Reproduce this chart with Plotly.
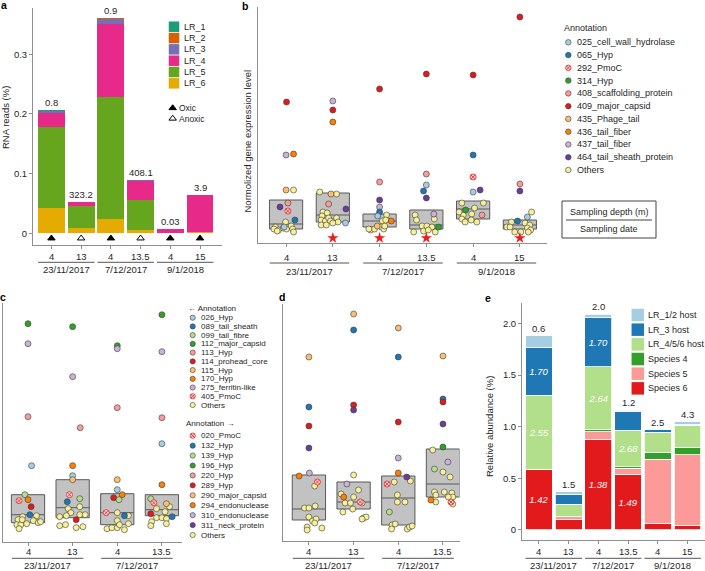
import plotly.graph_objects as go

W, H = 705, 571
FONT = "Liberation Sans, Arial, Helvetica, sans-serif"
INK = "#1f1f1f"
AXC = "#8f8f8f"

# ------------------------------------------------------------------ shared labels
depth6 = ["4", "13", "4", "13.5", "4", "15"]
depth4 = ["4", "13", "4", "13.5"]
dates3 = ["23/11/2017", "7/12/2017", "9/1/2018"]
dates2 = ["23/11/2017", "7/12/2017"]

# ------------------------------------------------------------------ panel a data
a_names = ["LR_1", "LR_2", "LR_3", "LR_4", "LR_5", "LR_6"]
a_colors = ["#1b9e77", "#d95f02", "#7570b3", "#e7298a", "#66a61e", "#e6ab02"]
a_LR1 = [0.0015, 0.0, 0.0, 0.0005, 0.0, 0.0]
a_LR2 = [0.0005, 0.0, 0.002, 0.0, 0.0, 0.0]
a_LR3 = [0.003, 0.001, 0.008, 0.002, 0.0, 0.0]
a_LR4 = [0.024, 0.006, 0.123, 0.031, 0.006, 0.062]
a_LR5 = [0.136, 0.037, 0.204, 0.050, 0.0, 0.0]
a_LR6 = [0.042, 0.009, 0.024, 0.006, 0.001, 0.002]
a_top_labels = ["0.8", "323.2", "0.9", "408.1", "0.03", "3.9"]
a_oxygen = ["Oxic", "Anoxic", "Oxic", "Anoxic", "Oxic", "Oxic"]

# ------------------------------------------------------------------ palette
LBLUE, DBLUE, LGREEN, DGREEN = "#a6cee3", "#1f78b4", "#b2df8a", "#33a02c"
PINK, RED, LORANGE, ORANGE = "#fb9a99", "#e31a1c", "#fdbf6f", "#ff7f00"
LPURPLE, PURPLE, YELLOW = "#cab2d6", "#6a3d9a", "#f6f09a"
PMOC = "PMOC"
PMOC_FILL, PMOC_LINE = "#fde3e3", "#f03c3c"

# ------------------------------------------------------------------ panel b data
b_legend = ["025_cell_wall_hydrolase", "065_Hyp", "292_PmoC", "314_Hyp", "408_scaffolding_protein",
            "409_major_capsid", "435_Phage_tail", "436_tail_fiber", "437_tail_fiber",
            "464_tail_sheath_protein", "Others"]
b_legend_colors = [LBLUE, DBLUE, PMOC, DGREEN, PINK, RED, LORANGE, ORANGE, LPURPLE, PURPLE, YELLOW]
b_jitter = [
    [0.01, 0.0, 0.16, 0.0, 0.16, -0.13, 0.04, 0.04, 0.19, -0.04, -0.01, -0.23, -0.16, -0.06, 0.01, 0.11, 0.14, 0.16, -0.26, -0.19],
    [0, 0, 0, -0.28, -0.04, 0.08, -0.09, 0.28, -0.21, -0.12, -0.23, -0.25, -0.16, -0.09, -0.05, 0.08, 0.11, -0.25, -0.14, 0.0, 0.27],
    [0, 0, 0, 0, 0, -0.04, 0.15, 0.06, 0.25, -0.05, -0.19, -0.11, 0.04, 0.09, 0.11, -0.23, 0.13],
    [0, 0, 0, -0.06, 0, -0.24, 0.16, -0.21, 0.17, -0.09, 0.01, 0.12, -0.27, -0.06, 0.04, 0.19, 0.26],
    [0, 0, 0, 0, 0.15, -0.24, 0.22, 0.03, -0.16, -0.21, -0.03, 0.19, -0.24, -0.17, -0.04, 0.08, -0.3],
    [0, 0, 0, 0.25, 0.16, -0.05, -0.18, 0.11, -0.28, -0.21, 0.21, 0.16, 0.23, 0.18, -0.11, 0.02],
]
b_level = [
    [14.1, 8.8, 8.9, 5.3, 5.3, 3.6, 4.0, 3.2, 2.3, 1.6, 2.1, 1.6, 1.3, 1.5, 1.4, 1.7, 1.4, 1.1, 1.4, 1.2],
    [14.2, 13.3, 12.1, 5.1, 4.9, 4.9, 3.9, 3.4, 3.1, 3.0, 2.7, 2.3, 2.2, 2.5, 2.2, 2.5, 2.1, 1.8, 1.8, 2.0, 2.0],
    [15.4, 6.1, 4.3, 3.6, 3.1, 2.7, 2.8, 2.2, 2.2, 1.7, 1.3, 1.4, 1.6, 1.4, 1.7, 1.4, 2.3],
    [16.9, 6.9, 5.8, 5.2, 4.5, 2.8, 2.9, 2.3, 2.4, 1.7, 1.7, 1.6, 1.1, 1.2, 1.3, 1.1, 1.6],
    [16.8, 8.8, 6.6, 5.1, 5.3, 4.0, 4.0, 3.5, 3.3, 2.8, 2.9, 2.8, 2.4, 2.1, 2.3, 2.1, 3.1],
    [22.6, 5.9, 5.2, 3.1, 2.6, 2.2, 2.1, 2.0, 1.6, 1.6, 1.8, 1.5, 1.3, 1.1, 1.1, 1.1],
]
b_annot = [
    ["409", "437", "436", "435", "O", "464", "408", "292", "065", "025"] + ["O"] * 10,
    ["437", "409", "436", "O", "435", "O", "408", "464"] + ["O"] * 12 + ["025"],
    ["409", "408", "464", "437", "065", "025", "O", "O", "436", "435"] + ["O"] * 7,
    ["409", "408", "025", "065", "464", "O", "437"] + ["O"] * 9 + ["314"],
    ["409", "065", "292", "025", "464", "O", "O", "O", "314", "O", "O", "408", "O", "O", "O", "O", "O"],
    ["409", "408", "464", "O", "025", "065"] + ["O"] * 10,
]
b_q1 = [1.4, 2.1, 1.6, 1.4, 2.4, 1.4]
b_median = [1.9, 2.8, 2.2, 1.8, 3.4, 1.8]
b_q3 = [4.3, 5.0, 2.9, 3.3, 4.2, 2.3]
b_star_groups = [1, 2, 3, 5]

# ------------------------------------------------------------------ panel c data
c_legend = ["026_Hyp", "089_tail_sheath", "099_tail_fibre", "112_major_capsid", "113_Hyp",
            "114_prohead_core", "115_Hyp", "170_Hyp", "275_ferritin-like", "405_PmoC", "Others"]
c_legend_colors = [LBLUE, DBLUE, LGREEN, DGREEN, PINK, RED, LORANGE, ORANGE, LPURPLE, PMOC, YELLOW]
c_jitter = [
    [0, 0, 0, 0.08, -0.07, 0.0, -0.2, 0.07, 0.04, -0.12, 0.19, 0.12, 0.23, 0.28, -0.22, -0.25, -0.16, -0.03, -0.2, -0.13],
    [0, 0, 0.17, 0, 0, 0, -0.07, 0.16, -0.12, -0.1, 0.16, -0.04, 0.16, -0.14, -0.29, 0.28, 0.08, -0.29, -0.16, 0.08, 0.23],
    [0, 0, 0, 0, 0, 0.11, -0.08, 0.04, -0.25, 0, 0.16, 0.25, 0, 0.25, -0.23, -0.12, 0, 0.05, 0.16],
    [0, 0, 0, 0, 0, -0.25, -0.18, 0.1, -0.12, 0.07, 0.17, -0.25, 0.23, -0.12, 0, 0.1, -0.23, 0.1, -0.25],
]
c_level = [
    [21.8, 19.8, 12.5, 7.6, 4.7, 4.2, 4.1, 3.5, 2.7, 2.5, 2.6, 2.1, 1.9, 2.0, 2.2, 1.7, 1.7, 1.8, 1.3, 2.2],
    [21.5, 16.5, 11.4, 7.6, 6.6, 6.2, 4.7, 4.3, 4.0, 3.3, 3.5, 2.9, 2.7, 2.6, 2.5, 2.7, 2.2, 1.6, 1.7, 1.4, 1.5],
    [19.6, 19.3, 13.4, 6.2, 5.2, 4.7, 4.4, 4.2, 2.9, 2.9, 2.6, 2.6, 2.1, 1.8, 1.3, 1.4, 1.4, 1.7, 1.2],
    [22.7, 19.0, 12.4, 9.8, 5.7, 4.3, 3.9, 3.8, 3.3, 3.0, 3.5, 2.8, 2.5, 2.4, 2.4, 2.3, 2.0, 1.8, 1.6],
]
c_annot = [
    ["112", "275", "113", "026", "099", "170", "405", "114", "089"] + ["O"] * 11,
    ["112", "275", "113", "170", "026", "115", "405", "099", "089"] + ["O"] * 7 + ["114"] + ["O"] * 4,
    ["112", "275", "113", "115", "026", "170", "114", "099", "405", "O", "089"] + ["O"] * 8,
    ["112", "275", "113", "026", "170", "099", "405", "115", "O", "O", "O", "114", "089"] + ["O"] * 6,
]
c_q1 = [1.9, 2.4, 1.7, 2.6]
c_median = [2.7, 3.4, 2.9, 3.2]
c_q3 = [4.7, 6.2, 4.8, 4.7]

# ------------------------------------------------------------------ panel d data
d_legend = ["020_PmoC", "132_Hyp", "139_Hyp", "196_Hyp", "220_Hyp", "289_Hyp", "290_major_capsid",
            "294_endonuclease", "310_endonuclease", "311_neck_protein", "Others"]
d_legend_colors = [PMOC, DBLUE, LGREEN, DGREEN, PINK, RED, LORANGE, ORANGE, LPURPLE, PURPLE, YELLOW]
d_jitter = [
    [0, 0, 0, 0, -0.22, 0.01, 0.19, 0.13, -0.1, 0, 0.14, 0, 0.08, 0.16, 0.13, -0.04, -0.04, 0.29],
    [0, 0, 0, 0, 0, -0.15, 0.11, -0.28, -0.22, 0, -0.19, -0.07, 0.15, 0.19, -0.24, -0.02, 0.22, 0.28, 0.19],
    [0, 0, 0, 0, 0, 0.19, 0.27, -0.25, -0.09, -0.02, -0.02, 0.15, -0.2, -0.14, -0.07, -0.15, 0.2, 0.25, 0.31],
    [0, 0, 0, 0, 0, -0.23, 0.11, -0.19, 0, 0.16, -0.19, 0.03, 0.2, 0.22, 0.12, -0.16, -0.27, -0.16, 0.18, 0.22],
]
d_level = [
    [18.4, 13.4, 11.5, 9.3, 6.5, 6.8, 5.9, 5.5, 3.3, 3.3, 3.5, 2.4, 2.0, 2.2, 1.8, 1.4, 1.1, 1.3],
    [22.7, 21.1, 13.6, 13.1, 6.6, 5.7, 5.1, 4.7, 4.4, 4.4, 3.8, 3.8, 3.9, 3.8, 2.9, 3.2, 2.3, 2.4, 2.2],
    [21.3, 18.4, 11.9, 8.3, 6.8, 6.4, 6.0, 5.7, 5.9, 4.6, 3.9, 3.9, 2.9, 1.6, 1.7, 1.2, 1.2, 1.4, 1.5],
    [18.5, 14.2, 13.9, 11.7, 9.4, 9.1, 7.9, 7.2, 6.9, 6.4, 4.9, 4.9, 4.8, 4.4, 4.4, 4.6, 4.1, 3.9, 3.9, 3.7],
]
d_annot = [
    ["290", "132", "289", "311", "294", "310", "020"] + ["O"] * 11,
    ["290", "132", "289", "311", "O", "310", "O", "O", "294", "O", "O", "O", "020"] + ["O"] * 6,
    ["290", "132", "289", "310", "294", "311", "O", "020", "O", "O", "O", "O", "139"] + ["O"] * 6,
    ["290", "132", "289", "311", "196", "O", "310", "139"] + ["O"] * 8 + ["294", "O", "020", "O"],
]
d_q1 = [2.1, 3.2, 1.6, 4.4]
d_median = [3.2, 3.9, 4.3, 5.7]
d_q3 = [6.6, 5.9, 6.5, 9.2]

# ------------------------------------------------------------------ panel e data
e_names = ["LR_1/2 host", "LR_3 host", "LR_4/5/6 host", "Species 4", "Species 5", "Species 6"]
e_colors = [LBLUE, DBLUE, LGREEN, DGREEN, PINK, RED]
e_LR12 = [0.112, 0.020, 0.032, 0.009, 0.0, 0.022]
e_LR3 = [0.462, 0.100, 0.478, 0.184, 0.023, 0.013]
e_LR456 = [0.716, 0.119, 0.606, 0.358, 0.196, 0.213]
e_sp4 = [0.0, 0.0, 0.022, 0.013, 0.065, 0.071]
e_sp5 = [0.0, 0.032, 0.075, 0.058, 0.629, 0.681]
e_sp6 = [0.590, 0.097, 0.877, 0.539, 0.058, 0.048]
e_txt_LR3 = ["1.70", "", "1.70", "", "", ""]
e_txt_LR456 = ["2.55", "", "2.64", "2.68", "", ""]
e_txt_sp6 = ["1.42", "", "1.38", "1.49", "", ""]
e_top_labels = ["0.6", "1.5", "2.0", "1.2", "2.5", "4.3"]


# ------------------------------------------------------------------ helpers
def fx(p):
    return p / W


def fy(p):
    return 1 - p / H


def refs(n):
    return ("x", "y") if n == 1 else ("x%d" % n, "y%d" % n)


def axkeys(n):
    return ("xaxis", "yaxis") if n == 1 else ("xaxis%d" % n, "yaxis%d" % n)


PANELS = {
    "a": dict(n=1, xpx=(33, 222), ypx=(8, 245), xr=[-0.62, 5.74], yr=[-0.0196, 0.3774], ncat=6),
    "b": dict(n=2, xpx=(258, 547), ypx=(7, 243), xr=[-0.6, 5.58], yr=[0, 23.6], ncat=6),
    "c": dict(n=3, xpx=(3, 182), ypx=(303, 541.7), xr=[-0.56, 3.45], yr=[0, 23.87], ncat=4),
    "d": dict(n=4, xpx=(283, 459.5), ypx=(304, 541), xr=[-0.58, 3.37], yr=[0, 23.7], ncat=4),
    "e": dict(n=5, xpx=(522, 705), ypx=(303.3, 540), xr=[-0.57, 5.59], yr=[-0.097, 2.195], ncat=6),
}

fig = go.Figure()
anns = []
shapes = []
axes = {}


def font(size=9, color=INK, **kw):
    d = dict(family=FONT, size=size, color=color)
    d.update(kw)
    return d


def text(x, y, s, size=9, xanchor="center", yanchor="middle", **kw):
    anns.append(dict(x=fx(x), y=fy(y), xref="paper", yref="paper", text=s, showarrow=False,
                     font=font(size), xanchor=xanchor, yanchor=yanchor, **kw))


for key, p in PANELS.items():
    n = p["n"]
    xk, yk = axkeys(n)
    xr_, yr_ = refs(n)
    axes[xk] = dict(domain=[fx(p["xpx"][0]), fx(p["xpx"][1])], range=p["xr"], anchor=yr_,
                    showline=True, linecolor=AXC, linewidth=1, ticks="outside", ticklen=3,
                    tickcolor=AXC, tickwidth=1, tickvals=list(range(p["ncat"])),
                    showticklabels=False, showgrid=False, zeroline=False, fixedrange=True)
    axes[yk] = dict(domain=[fy(p["ypx"][1]), fy(p["ypx"][0])], range=p["yr"], anchor=xr_,
                    showline=True, linecolor=AXC, linewidth=1, showgrid=False, zeroline=False,
                    fixedrange=True, ticks="", showticklabels=False)

axes["yaxis"].update(ticks="outside", ticklen=3, tickcolor=AXC, showticklabels=True,
                     tickvals=[0, 0.1, 0.2, 0.3], ticktext=["0", "0.1", "0.2", "0.3"],
                     tickfont=font(9.5))
axes["yaxis5"].update(ticks="outside", ticklen=3, tickcolor=AXC, showticklabels=True,
                      tickvals=[0, 0.5, 1.0, 1.5, 2.0], ticktext=["0", "0.5", "1.0", "1.5", "2.0"],
                      tickfont=font(9.5))
# overlay (pixel-like) axis for legends
axes["xaxis6"] = dict(domain=[0, 1], range=[0, W], anchor="y6", visible=False, fixedrange=True)
axes["yaxis6"] = dict(domain=[0, 1], range=[H, 0], anchor="x6", visible=False, fixedrange=True)


def x_groups(n, depths, dates, lo, hi, y_depth, y_line, y_date):
    xr_, _ = refs(n)
    for i, d in enumerate(depths):
        anns.append(dict(x=i, xref=xr_, y=fy(y_depth), yref="paper", text=d, showarrow=False,
                         font=font(9.5), xanchor="center", yanchor="middle"))
    for g, dt in enumerate(dates):
        x0, x1 = 2 * g + lo, 2 * g + 1 + hi
        shapes.append(dict(type="line", xref=xr_, yref="paper", x0=x0, x1=x1,
                           y0=fy(y_line), y1=fy(y_line), line=dict(color="#555555", width=1)))
        anns.append(dict(x=(x0 + x1) / 2, xref=xr_, y=fy(y_date), yref="paper", text=dt,
                         showarrow=False, font=font(9.5), xanchor="center", yanchor="middle"))


# ------------------------------------------------------------------ panel a
a_stack = [a_LR6, a_LR5, a_LR4, a_LR3, a_LR2, a_LR1]
for vals, name, col in zip(a_stack, a_names[::-1], a_colors[::-1]):
    fig.add_trace(go.Bar(x=list(range(6)), y=vals, name=name, marker=dict(color=col, line=dict(width=0)),
                         width=0.9, xaxis="x", yaxis="y", showlegend=False, hoverinfo="skip"))
a_tot = [sum(v) for v in zip(*a_stack)]
for i, lab in enumerate(a_top_labels):
    anns.append(dict(x=i, xref="x", y=a_tot[i], yref="y", text=lab, showarrow=False,
                     font=font(9.5), xanchor="center", yanchor="bottom", yshift=0))
fig.add_trace(go.Scatter(x=list(range(6)), y=[-0.0084] * 6, mode="markers", xaxis="x", yaxis="y",
                         marker=dict(symbol=["triangle-up" if o == "Oxic" else "triangle-up-open" for o in a_oxygen],
                                     size=6.5, color="black", line=dict(color="black", width=1)),
                         cliponaxis=False, showlegend=False, hoverinfo="skip"))
x_groups(1, depth6, dates3, -0.45, 0.45, 256.7, 262.3, 270)

# a legend
fig.add_trace(go.Scatter(x=[174] * 6, y=[26.7 + 11.33 * i for i in range(6)], mode="markers",
                         xaxis="x6", yaxis="y6",
                         marker=dict(symbol="square", size=10.5, color=a_colors, line=dict(width=0)),
                         showlegend=False, hoverinfo="skip"))
for i, nm in enumerate(a_names):
    text(182, 26.7 + 11.33 * i, nm, size=9, xanchor="left")
fig.add_trace(go.Scatter(x=[172.7, 172.7], y=[108, 118.5], mode="markers", xaxis="x6", yaxis="y6",
                         marker=dict(symbol=["triangle-up", "triangle-up-open"], size=6.5, color="black",
                                     line=dict(color="black", width=1)),
                         showlegend=False, hoverinfo="skip"))
text(177.5, 108, "Oxic", size=8.5, xanchor="left")
text(177.5, 118.5, "Anoxic", size=8.5, xanchor="left")
text(5, 118, "RNA reads (%)", size=9.5, textangle=-90)


# ------------------------------------------------------------------ scatter panels
def cmap_from(names, colors):
    m = {}
    for nm, c in zip(names, colors):
        m["O" if nm == "Others" else nm.split("_")[0]] = c
    return m


def add_points(n, jit, lev, ann, names, colors, size=6):
    cmap = cmap_from(names, colors)
    xr_, yr_ = refs(n)
    pts = []
    for g in range(len(jit)):
        for j, v, a in zip(jit[g], lev[g], ann[g]):
            pts.append((g + j, v, a))
    pts.sort(key=lambda t: t[2] != "O")
    xs = [t[0] for t in pts]
    ys = [t[1] for t in pts]
    cols = [PMOC_FILL if cmap[t[2]] == PMOC else cmap[t[2]] for t in pts]
    syms = ["circle-x" if cmap[t[2]] == PMOC else "circle" for t in pts]
    lcol = [PMOC_LINE if cmap[t[2]] == PMOC else "#3a3a3a" for t in pts]
    lw = [1.0 if cmap[t[2]] == PMOC else 0.6 for t in pts]
    fig.add_trace(go.Scatter(x=xs, y=ys, mode="markers", xaxis=xr_, yaxis=yr_,
                             marker=dict(size=size, color=cols, symbol=syms, line=dict(color=lcol, width=lw)),
                             cliponaxis=False, showlegend=False, hoverinfo="skip"))


def add_boxes(n, q1, med, q3, width):
    xr_, yr_ = refs(n)
    fig.add_trace(go.Box(x=list(range(len(q1))), q1=q1, median=med, q3=q3, lowerfence=q1, upperfence=q3,
                         width=width, fillcolor="#c2c2c2", line=dict(color="#595959", width=1),
                         whiskerwidth=0, boxpoints=False, xaxis=xr_, yaxis=yr_,
                         showlegend=False, hoverinfo="skip"))


def legend_points(xc, y0, dy, colors, size, xtext, names, tsize):
    cols = [PMOC_FILL if c == PMOC else c for c in colors]
    syms = ["circle-x" if c == PMOC else "circle" for c in colors]
    lcol = [PMOC_LINE if c == PMOC else "#3a3a3a" for c in colors]
    lw = [1.0 if c == PMOC else 0.6 for c in colors]
    ys = [y0 + dy * i for i in range(len(colors))]
    fig.add_trace(go.Scatter(x=[xc] * len(colors), y=ys, mode="markers", xaxis="x6", yaxis="y6",
                             marker=dict(size=size, color=cols, symbol=syms, line=dict(color=lcol, width=lw)),
                             showlegend=False, hoverinfo="skip"))
    for y, nm in zip(ys, names):
        text(xtext, y, nm, size=tsize, xanchor="left")


# panel b
add_boxes(2, b_q1, b_median, b_q3, 0.71)
add_points(2, b_jitter, b_level, b_annot, b_legend, b_legend_colors, size=6)
fig.add_trace(go.Scatter(x=b_star_groups, y=[0.5] * len(b_star_groups), mode="markers", xaxis="x2", yaxis="y2",
                         marker=dict(symbol="star", size=8.5, color="#ee1c1c", line=dict(width=0)),
                         cliponaxis=False, showlegend=False, hoverinfo="skip"))
x_groups(2, depth6, dates3, -0.35, 0.35, 257, 263, 271)
text(246.5, 141, "Normolized gene expression level", size=9.5, textangle=-90)
text(562, 28.3, "Annotation", size=9, xanchor="left")
legend_points(568.3, 42.3, 12.77, b_legend_colors, 5.5, 574.5, b_legend, 9)
shapes.append(dict(type="rect", xref="paper", yref="paper", x0=fx(562), x1=fx(656), y0=fy(238), y1=fy(201),
                   line=dict(color="#444444", width=1)))
shapes.append(dict(type="line", xref="paper", yref="paper", x0=fx(566), x1=fx(652), y0=fy(220), y1=fy(220),
                   line=dict(color="#444444", width=1)))
text(609, 211.5, "Sampling depth (m)", size=9)
text(609, 229, "Sampling date", size=9)

# panel c
add_boxes(3, c_q1, c_median, c_q3, 0.745)
add_points(3, c_jitter, c_level, c_annot, c_legend, c_legend_colors, size=6)
x_groups(3, depth4, dates2, -0.36, 0.24, 551.7, 558.3, 565)
text(186, 308, "\u2190 Annotation", size=8, xanchor="left")
legend_points(192.7, 317.7, 8.73, c_legend_colors, 5.2, 199, c_legend, 8)
text(184, 423, "Annotation \u2192", size=8, xanchor="left")
legend_points(192.7, 435.7, 9.93, d_legend_colors, 5.2, 199, d_legend, 8)

# panel d
add_boxes(4, d_q1, d_median, d_q3, 0.745)
add_points(4, d_jitter, d_level, d_annot, d_legend, d_legend_colors, size=6)
x_groups(4, depth4, dates2, -0.36, 0.24, 551.7, 558.3, 565)

# ------------------------------------------------------------------ panel e
e_stack = [e_sp6, e_sp5, e_sp4, e_LR456, e_LR3, e_LR12]
e_txts = [e_txt_sp6, None, None, e_txt_LR456, e_txt_LR3, None]
for vals, name, col, tx in zip(e_stack, e_names[::-1], e_colors[::-1], e_txts):
    kw = {}
    if tx is not None:
        kw = dict(text=tx, textposition="inside", insidetextanchor="middle", textangle=0,
                  textfont=dict(family=FONT, size=9.5, color="white", style="italic"))
    fig.add_trace(go.Bar(x=list(range(6)), y=vals, name=name,
                         marker=dict(color=col, line=dict(color="white", width=0.8)),
                         width=0.9, xaxis="x5", yaxis="y5", showlegend=False, hoverinfo="skip", **kw))
e_tot = [sum(v) for v in zip(*e_stack)]
for i, lab in enumerate(e_top_labels):
    anns.append(dict(x=i, xref="x5", y=e_tot[i], yref="y5", text=lab, showarrow=False,
                     font=font(9.5), xanchor="center", yanchor="bottom", yshift=0))
x_groups(5, depth6, dates3, -0.45, 0.45, 551.7, 558.3, 565)
text(489, 427, "Relative abundance (%)", size=9.5, textangle=-90)
fig.add_trace(go.Scatter(x=[637.8] * 6, y=[315 + 14.67 * i for i in range(6)], mode="markers",
                         xaxis="x6", yaxis="y6",
                         marker=dict(symbol="square", size=12.5, color=e_colors, line=dict(width=0)),
                         showlegend=False, hoverinfo="skip"))
for i, nm in enumerate(e_names):
    text(646, 315 + 14.67 * i, nm, size=9, xanchor="left")

# ------------------------------------------------------------------ panel letters
for lt, (x, y) in zip("abcde", [(4, 5), (245, 6), (3, 297), (281.5, 297), (488, 298)]):
    anns.append(dict(x=fx(x), y=fy(y), xref="paper", yref="paper", text="<b>%s</b>" % lt, showarrow=False,
                     font=font(10.5, color="black"), xanchor="center", yanchor="middle"))

fig.update_layout(width=W, height=H, margin=dict(l=0, r=0, t=0, b=0), paper_bgcolor="white",
                  plot_bgcolor="rgba(0,0,0,0)", showlegend=False, barmode="stack",
                  annotations=anns, shapes=shapes, **axes)
fig.write_html("out.html", config={"displayModeBar": False, "staticPlot": True},
               post_script="document.body.style.margin='0';document.body.style.overflow='hidden';")
